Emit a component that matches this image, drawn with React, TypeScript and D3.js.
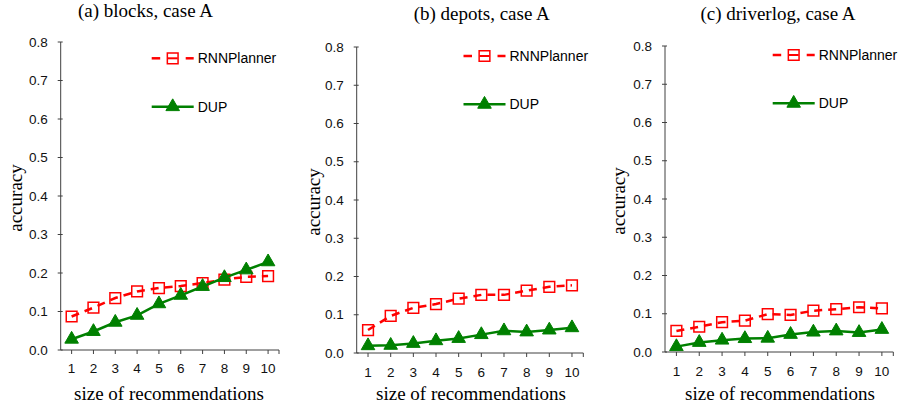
import React from "react";
import * as d3 from "d3";

const categories = ["1", "2", "3", "4", "5", "6", "7", "8", "9", "10"];
const yTicks = [0, 0.1, 0.2, 0.3, 0.4, 0.5, 0.6, 0.7, 0.8];
const titles = ["(a) blocks, case A", "(b) depots, case A", "(c) driverlog, case A"];
const seriesNames = ["RNNPlanner", "DUP"];

const rnnBlocks = [0.087, 0.11, 0.135, 0.152, 0.161, 0.166, 0.174, 0.183, 0.19, 0.192];
const dupBlocks = [0.028, 0.048, 0.072, 0.09, 0.12, 0.142, 0.165, 0.188, 0.208, 0.229];
const rnnDepots = [0.06, 0.097, 0.118, 0.128, 0.142, 0.152, 0.152, 0.163, 0.173, 0.177];
const dupDepots = [0.019, 0.02, 0.025, 0.032, 0.038, 0.048, 0.058, 0.055, 0.06, 0.066];
const rnnDriverlog = [0.055, 0.066, 0.078, 0.082, 0.099, 0.097, 0.108, 0.112, 0.117, 0.114];
const dupDriverlog = [0.014, 0.025, 0.031, 0.035, 0.036, 0.046, 0.052, 0.055, 0.051, 0.059];

const rnnData = [rnnBlocks, rnnDepots, rnnDriverlog];
const dupData = [dupBlocks, dupDepots, dupDriverlog];

// layout (pixels)
const layouts = [
  { left: 60.7, right: 279, top: 42, bottom: 350, legX: 151.7, legY1: 58.3, legY2: 106.7, titleX: 145.5, titleY: 17, xlabX: 169, ylabX: 22, tickY: 373 },
  { left: 356.7, right: 583.3, top: 47, bottom: 353, legX: 463.5, legY1: 56, legY2: 104.3, titleX: 481.7, titleY: 20, xlabX: 471, ylabX: 320, tickY: 376.5 },
  { left: 665, right: 893.3, top: 46, bottom: 352, legX: 772.7, legY1: 55, legY2: 103.3, titleX: 778, titleY: 19.5, xlabX: 780, ylabX: 625, tickY: 376 },
];

const RED = "#FF0000";
const GREEN = "#008000";
const AXIS = "#404040";
const SANS = "'Liberation Sans', Arial, sans-serif";
const SERIF = "'Liberation Serif', 'Times New Roman', serif";

const squarePath = d3.symbol(d3.symbolSquare, 115)() as string;
const trianglePath = d3.symbol(d3.symbolTriangle, 80)() as string;

function Panel({ idx }: { idx: number }) {
  const L = layouts[idx];
  const x = d3.scalePoint<string>().domain(categories).range([L.left, L.right]).padding(0.5);
  const y = d3.scaleLinear().domain([0, 0.8]).range([L.bottom, L.top]);
  const line = d3
    .line<number>()
    .x((_, i) => x(categories[i]) as number)
    .y((d) => y(d));
  const rnn = rnnData[idx];
  const dup = dupData[idx];
  const xTickPos = categories.map((c) => x(c) as number).concat([L.right]);
  const legLen = 42;
  const legMid = L.legX + legLen / 2;
  const yMid = (L.top + L.bottom) / 2 + 2;
  return (
    <g>
      <text x={L.titleX} y={L.titleY} textAnchor="middle" fontFamily={SERIF} fontSize={19} fill="#000">
        {titles[idx]}
      </text>
      {/* axes */}
      <line x1={L.left} x2={L.left} y1={L.top} y2={L.bottom} stroke={AXIS} strokeWidth={1} />
      <line x1={L.left} x2={L.right} y1={L.bottom} y2={L.bottom} stroke={AXIS} strokeWidth={1} />
      {yTicks.map((t) => (
        <g key={t}>
          <line x1={L.left - 3} x2={L.left + 2} y1={y(t)} y2={y(t)} stroke={AXIS} strokeWidth={1} />
          <text x={L.left - 13} y={y(t)} dy="0.35em" textAnchor="end" fontFamily={SANS} fontSize={13.5} fill="#111">
            {t.toFixed(1)}
          </text>
        </g>
      ))}
      {xTickPos.map((p, i) => (
        <line key={i} x1={p} x2={p} y1={L.bottom} y2={L.bottom + 4} stroke={AXIS} strokeWidth={1} />
      ))}
      {categories.map((c) => (
        <text key={c} x={x(c) as number} y={L.tickY} textAnchor="middle" fontFamily={SANS} fontSize={13.5} fill="#111">
          {c}
        </text>
      ))}
      <text x={L.xlabX} y={400} textAnchor="middle" fontFamily={SERIF} fontSize={19} fill="#000">
        size of recommendations
      </text>
      <text
        transform={`translate(${L.ylabX},${yMid}) rotate(-90)`}
        textAnchor="middle"
        fontFamily={SERIF}
        fontSize={19}
        fill="#000"
      >
        accuracy
      </text>
      {/* RNNPlanner */}
      <path d={line(rnn) as string} fill="none" stroke={RED} strokeWidth={2.5} strokeDasharray="8,6" />
      {rnn.map((v, i) => (
        <path
          key={i}
          d={squarePath}
          transform={`translate(${x(categories[i])},${y(v)})`}
          fill="none"
          stroke={RED}
          strokeWidth={1.5}
        />
      ))}
      {/* DUP */}
      <path d={line(dup) as string} fill="none" stroke={GREEN} strokeWidth={2.5} />
      {dup.map((v, i) => (
        <path key={i} d={trianglePath} transform={`translate(${x(categories[i])},${y(v)})`} fill={GREEN} stroke={GREEN} strokeWidth={1} />
      ))}
      {/* legend */}
      <line x1={L.legX} x2={L.legX + 8.5} y1={L.legY1} y2={L.legY1} stroke={RED} strokeWidth={2.5} />
      <line x1={L.legX + legLen - 8} x2={L.legX + legLen} y1={L.legY1} y2={L.legY1} stroke={RED} strokeWidth={2.5} />
      <line x1={legMid - 5} x2={legMid + 5} y1={L.legY1} y2={L.legY1} stroke={RED} strokeWidth={2} />
      <path d={squarePath} transform={`translate(${legMid},${L.legY1})`} fill="none" stroke={RED} strokeWidth={1.5} />
      <text x={L.legX + legLen + 4} y={L.legY1} dy="0.35em" fontFamily={SANS} fontSize={14} fill="#000">
        {seriesNames[0]}
      </text>
      <line x1={L.legX} x2={L.legX + legLen} y1={L.legY2} y2={L.legY2} stroke={GREEN} strokeWidth={2.5} />
      <path d={trianglePath} transform={`translate(${legMid},${L.legY2})`} fill={GREEN} stroke={GREEN} strokeWidth={1} />
      <text x={L.legX + legLen + 4} y={L.legY2} dy="0.35em" fontFamily={SANS} fontSize={14} fill="#000">
        {seriesNames[1]}
      </text>
    </g>
  );
}

export default function App() {
  return (
    <svg
      width={900}
      height={408}
      viewBox="0 0 900 408"
      style={{ position: "absolute", left: 0, top: 0, background: "#fff" }}
    >
      <rect x={0} y={0} width={900} height={408} fill="#fff" />
      {[0, 1, 2].map((i) => (
        <Panel key={i} idx={i} />
      ))}
    </svg>
  );
}
